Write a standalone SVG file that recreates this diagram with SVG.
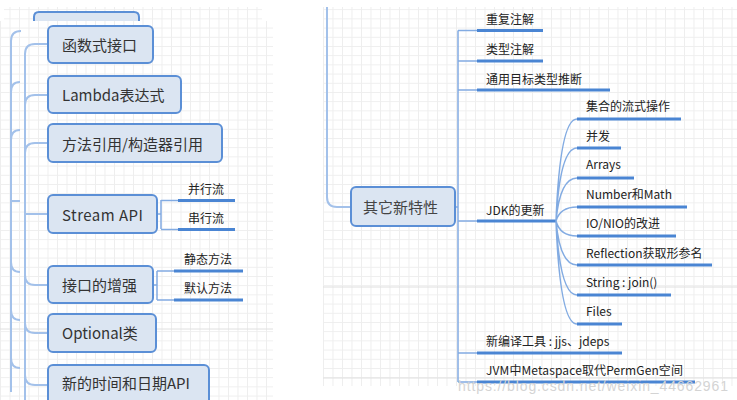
<svg xmlns="http://www.w3.org/2000/svg" width="737" height="400" viewBox="0 0 737 400">
<defs>
<pattern id="grid" width="9.5" height="9.2" patternUnits="userSpaceOnUse">
<path d="M0 0.5H9.5M0.5 0V9.2" fill="none" stroke="#eeeeee" stroke-width="1"/>
</pattern>
<style>
.box{fill:#dbe5f2;stroke:#5b8fd6;stroke-width:2}
.bt{font-family:"Noto Sans CJK SC","Noto Sans",sans-serif;font-size:15px;fill:#333}
.st{font-family:"Noto Sans CJK SC","Noto Sans",sans-serif;font-size:12px;fill:#222}
.thin{fill:none;stroke:#82abe2;stroke-width:1.5}
.side{fill:none;stroke:#a3c1ea;stroke-width:2}
.ul{fill:none;stroke:#4a85d3;stroke-width:3}
</style>
</defs>
<rect width="737" height="400" fill="#ffffff"/>
<!-- backgrounds -->
<rect x="4" y="7" width="258" height="14" fill="url(#grid)"/>
<rect x="0" y="21" width="273" height="379" fill="url(#grid)"/>
<rect x="323" y="7" width="414" height="379" fill="url(#grid)"/>
<path d="M323 287H737M323 378H737M0 329H273" stroke="#e0e0e0" stroke-width="1"/>
<!-- partial box behind -->
<g id="node-top-partial">
<path d="M34 21V17Q34 12 39 12H134Q139 12 139 17V21Z" fill="#dbe5f2"/>
<path d="M34 21V17Q34 12 39 12H134Q139 12 139 17V21" fill="none" stroke="#5b8fd6" stroke-width="2"/>
</g>
<g id="connectors">
<path class="side" d="M11 392V41Q11 31 21 31M11 92Q11 82 20 82M11 140Q11 130 20 130M11 201H20M11 262Q11 272 20 272M11 310Q11 320 20 320M11 358Q11 368 20 368"/>
<path class="side" d="M25 400V54Q25 44 35 44H48M25 105Q25 95 35 95H48M25 153Q25 143 35 143H48M25 214H48M25 275Q25 285 35 285H48M25 323Q25 333 35 333H48M25 375Q25 385 35 385H48"/>
<path class="thin" d="M157 214H161M161 200V229M161 200.5H178M161 229.5H178"/>
<path class="ul" d="M178 200.5H235M178 229.5H235"/>
<path class="thin" d="M153 285H157M157 271V300M157 271H174M157 300H174"/>
<path class="ul" d="M174 271H243M174 300H243"/>
<path class="side" d="M327 7V197Q327 207 337 207H351"/>
<path class="thin" d="M455 207H458M458 30.5V382M458 30.5H477M458 61H477M458 90H477M458 221H477M458 353H477M458 382H477"/>
<path class="ul" d="M477 30.5H543M477 61H543M477 90H610M477 221H556M477 353H622M477 382H695"/>
<path class="thin" d="M556 221Q560 119 577 119M556 221Q560 148 577 148M556 221Q560 178 577 178M556 221Q560 207 577 207M556 221Q560 236 577 236M556 221Q560 265 577 265M556 221Q560 295 577 295M556 221Q560 324 577 324"/>
<path class="ul" d="M577 119H681M577 148H621M577 178H634M577 207H687M577 236H676M577 265H712M577 295H671M577 324H622"/>
</g>
<g id="node-functional"><rect class="box" x="48" y="26" width="105" height="37" rx="5"/><text class="bt" x="62" y="51">函数式接口</text></g>
<g id="node-lambda"><rect class="box" x="48" y="76" width="133" height="37" rx="5"/><text class="bt" x="62" y="101">Lambda表达式</text></g>
<g id="node-methodref"><rect class="box" x="48" y="124" width="174" height="38" rx="5"/><text class="bt" x="62" y="150">方法引用/构造器引用</text></g>
<g id="node-stream"><rect class="box" x="48" y="195" width="109" height="38" rx="5"/><text class="bt" x="62" y="221" textLength="81">Stream API</text></g>
<g id="node-stream-par"><text class="st" x="188" y="194">并行流</text></g>
<g id="node-stream-ser"><text class="st" x="188" y="223">串行流</text></g>
<g id="node-interface"><rect class="box" x="48" y="266" width="105" height="37" rx="5"/><text class="bt" x="62" y="291">接口的增强</text></g>
<g id="node-static"><text class="st" x="184" y="264">静态方法</text></g>
<g id="node-default"><text class="st" x="184" y="293">默认方法</text></g>
<g id="node-optional"><rect class="box" x="48" y="314" width="108" height="38" rx="5"/><text class="bt" x="62" y="339">Optional类</text></g>
<g id="node-datetime"><rect class="box" x="48" y="365" width="161" height="40" rx="5"/><text class="bt" x="62" y="389">新的时间和日期API</text></g>
<g id="node-other"><rect class="box" x="351" y="187" width="104" height="39" rx="5"/><text class="bt" x="363" y="213" style="fill:#444">其它新特性</text></g>
<g id="node-repeat"><text class="st" x="486" y="24">重复注解</text></g>
<g id="node-typeanno"><text class="st" x="486" y="54">类型注解</text></g>
<g id="node-infer"><text class="st" x="486" y="84">通用目标类型推断</text></g>
<g id="node-jdk"><text class="st" x="486" y="215">JDK的更新</text></g>
<g id="node-coll"><text class="st" x="586" y="111">集合的流式操作</text></g>
<g id="node-conc"><text class="st" x="586" y="141">并发</text></g>
<g id="node-arrays"><text class="st" x="586" y="169">Arrays</text></g>
<g id="node-number"><text class="st" x="586" y="199">Number和Math</text></g>
<g id="node-io"><text class="st" x="586" y="228">IO/NIO的改进</text></g>
<g id="node-refl"><text class="st" x="586" y="258">Reflection获取形参名</text></g>
<g id="node-string"><text class="st" x="586" y="287">String : join()</text></g>
<g id="node-files"><text class="st" x="586" y="316">Files</text></g>
<g id="node-tools"><text class="st" x="486" y="346">新编译工具 : jjs、jdeps</text></g>
<g id="node-jvm"><text class="st" x="486" y="375" textLength="197">JVM中Metaspace取代PermGen空间</text></g>
<text x="458" y="391" font-family="Liberation Sans, Arial, sans-serif" font-size="14" fill="#d4d4d4" textLength="270">https://blog.csdn.net/weixin_44662961</text>
</svg>
